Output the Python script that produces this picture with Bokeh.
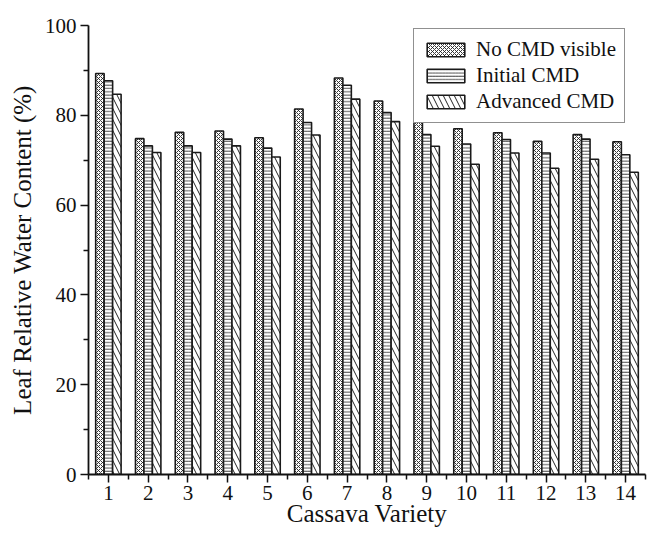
from bokeh.plotting import figure
from bokeh.models import ColumnDataSource, FixedTicker, Legend, LegendItem
from bokeh.embed import file_html
from bokeh.resources import INLINE

varieties = list(range(1, 15))
no_cmd = [89.3, 74.8, 76.2, 76.5, 75.0, 81.4, 88.3, 83.2, 78.6, 77.0, 76.1, 74.2, 75.7, 74.1]
initial_cmd = [87.7, 73.2, 73.2, 74.7, 72.7, 78.4, 86.7, 80.6, 75.7, 73.6, 74.6, 71.6, 74.7, 71.2]
advanced_cmd = [84.7, 71.7, 71.7, 73.2, 70.7, 75.6, 83.6, 78.6, 73.1, 69.1, 71.6, 68.2, 70.2, 67.3]
series_names = ["No CMD visible", "Initial CMD", "Advanced CMD"]
y_ticks = [0, 20, 40, 60, 80, 100]

FONT = "Liberation Serif"
bw = 0.213

p = figure(width=651, height=535, output_backend="svg", toolbar_location=None,
           x_range=(0.5, 14.5), y_range=(0, 100),
           min_border_left=88, min_border_right=6, min_border_top=25, min_border_bottom=61)
p.outline_line_color = None
p.xgrid.visible = False
p.ygrid.visible = False

styles = [dict(hatch_pattern="x", hatch_scale=4, hatch_weight=0.9),
          dict(hatch_pattern="-", hatch_scale=3.3, hatch_weight=0.8),
          dict(hatch_pattern="\\", hatch_scale=11, hatch_weight=1.0)]
offsets = [-bw, 0.0, bw]
items = []
for vals, name, st, off in zip([no_cmd, initial_cmd, advanced_cmd], series_names, styles, offsets):
    src = ColumnDataSource(dict(x=[v + off for v in varieties], top=vals))
    r = p.vbar(x="x", top="top", width=bw, bottom=0, source=src,
               fill_color="white", line_color="#1a1a1a", line_width=1.6,
               hatch_color="#222222", **st)
    items.append(LegendItem(label=name, renderers=[r]))

legend = Legend(items=items, location=(325, 351),
                label_text_font=FONT, label_text_font_size="21px", label_text_color="#111111",
                glyph_width=47, glyph_height=17, label_height=17, label_standoff=7,
                spacing=1, padding=8, margin=0,
                border_line_color="#222222", border_line_width=1.5,
                background_fill_color="white", background_fill_alpha=1.0)
p.add_layout(legend, "center")

for ax in (p.xaxis[0], p.yaxis[0]):
    ax.axis_line_width = 1.8
    ax.axis_line_color = "#111111"
    ax.major_tick_line_width = 1.5
    ax.minor_tick_line_width = 1.5
    ax.major_tick_line_color = "#111111"
    ax.minor_tick_line_color = "#111111"
    ax.major_tick_out = 8
    ax.major_tick_in = 0
    ax.minor_tick_out = 5
    ax.minor_tick_in = 0
    ax.major_label_text_font = FONT
    ax.major_label_text_font_size = "21px"
    ax.major_label_text_color = "#111111"
    ax.axis_label_text_font = FONT
    ax.axis_label_text_font_size = "25px"
    ax.axis_label_text_font_style = "normal"
    ax.axis_label_text_color = "#111111"

p.xaxis[0].ticker = FixedTicker(ticks=varieties, minor_ticks=[v - 0.5 for v in varieties] + [14.5])
p.yaxis[0].ticker = FixedTicker(ticks=y_ticks, minor_ticks=[10, 30, 50, 70, 90])
p.xaxis[0].axis_label = "Cassava Variety"
p.yaxis[0].axis_label = "Leaf Relative Water Content (%)"
p.xaxis[0].major_label_standoff = 3
p.xaxis[0].axis_label_standoff = -3
p.yaxis[0].major_label_standoff = 4
p.yaxis[0].axis_label_standoff = 6

open("out.html", "w").write(file_html(p, INLINE))
